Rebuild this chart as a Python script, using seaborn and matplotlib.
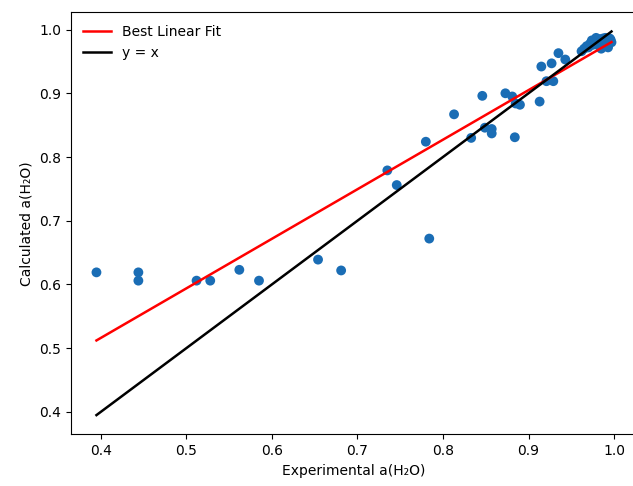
import numpy as np
import matplotlib
matplotlib.use("Agg")
import matplotlib.pyplot as plt
import seaborn as sns

# experimental vs calculated water activity
exp_aw = [0.395, 0.444, 0.444, 0.512, 0.528, 0.562, 0.585, 0.654, 0.681,
          0.735, 0.746, 0.784, 0.780, 0.813, 0.833, 0.846, 0.849, 0.857, 0.857,
          0.873, 0.881, 0.884, 0.885, 0.890, 0.913, 0.921, 0.929, 0.915, 0.927,
          0.935, 0.943,
          0.962, 0.965, 0.968, 0.970, 0.972, 0.975, 0.977, 0.979, 0.981, 0.983,
          0.985, 0.987, 0.989, 0.991, 0.993, 0.995, 0.997, 0.985, 0.993, 0.974,
          0.979, 0.990, 0.996, 0.982]
calc_aw = [0.619, 0.619, 0.606, 0.606, 0.606, 0.623, 0.606, 0.639, 0.622,
           0.779, 0.756, 0.672, 0.824, 0.867, 0.830, 0.896, 0.846, 0.844, 0.837,
           0.900, 0.895, 0.831, 0.884, 0.882, 0.887, 0.919, 0.919, 0.942, 0.947,
           0.963, 0.953,
           0.966, 0.970, 0.974, 0.972, 0.978, 0.976, 0.980, 0.983, 0.978, 0.985,
           0.982, 0.986, 0.980, 0.984, 0.977, 0.986, 0.980, 0.970, 0.972, 0.983,
           0.987, 0.987, 0.984, 0.975]

x = np.array(exp_aw)
y = np.array(calc_aw)
slope, intercept = np.polyfit(x, y, 1)
xs = np.array([x.min(), x.max()])

fig = plt.figure(figsize=(6.33, 4.86), dpi=100)
ax = fig.add_axes([0.1117, 0.1064, 0.895, 0.8683])

sns.scatterplot(x=x, y=y, ax=ax, color="#1a6db5", s=50, edgecolor="none", zorder=2)
sns.lineplot(x=xs, y=slope * xs + intercept, ax=ax, color="red", linewidth=1.8,
             label="Best Linear Fit", zorder=3)
sns.lineplot(x=xs, y=xs, ax=ax, color="black", linewidth=1.8, label="y = x", zorder=3)

ax.set_xlabel("Experimental a(H₂O)")
ax.set_ylabel("Calculated a(H₂O)")
ax.legend(loc="upper left", frameon=False)

fig.savefig("out.png", dpi=100)
